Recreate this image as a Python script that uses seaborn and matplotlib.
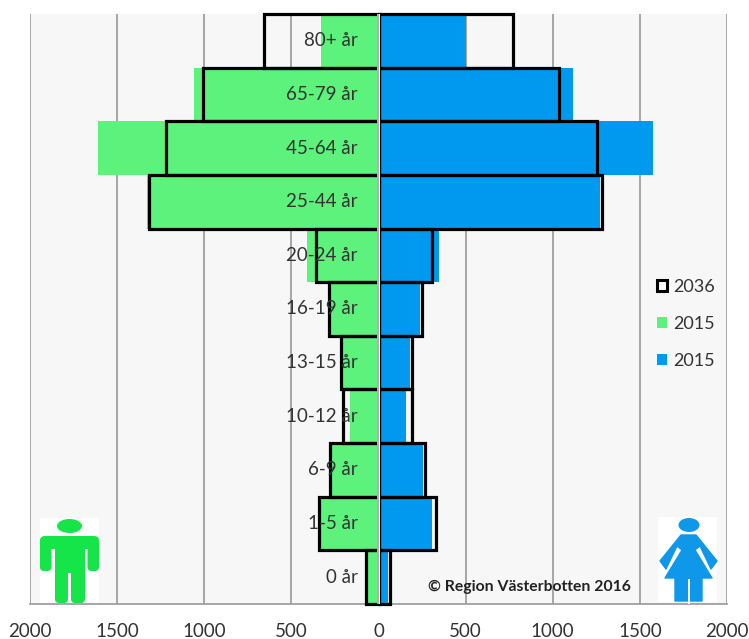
import matplotlib
matplotlib.use("Agg")
import matplotlib.pyplot as plt
import seaborn as sns
from matplotlib.patches import Patch, Rectangle, Ellipse, Polygon, FancyBboxPatch

age_groups = ["80+ år", "65-79 år", "45-64 år", "25-44 år", "20-24 år", "16-19 år",
              "13-15 år", "10-12 år", "6-9 år", "1-5 år", "0 år"]
men_2015 = [330, 1060, 1610, 1330, 410, 280, 210, 165, 275, 330, 65]
women_2015 = [500, 1115, 1575, 1270, 350, 240, 180, 160, 255, 305, 55]
men_2036 = [655, 1010, 1220, 1315, 360, 285, 215, 205, 280, 340, 70]
women_2036 = [770, 1035, 1255, 1280, 305, 250, 190, 190, 265, 330, 65]
xticks = [-2000, -1500, -1000, -500, 0, 500, 1000, 1500, 2000]
xticklabels = ["2000", "1500", "1000", "500", "0", "500", "1000", "1500", "2000"]
legend_labels = ["2036", "2015", "2015"]

GREEN = "#5CF27C"
BLUE = "#0099F0"
BG = "#F7F7F7"
GRID = "#A0A0A0"
TXT = "#333333"
W, H = 749, 639

sns.set_theme(style="white")
plt.rcParams["font.family"] = ["Lato", "DejaVu Sans"]

fig = plt.figure(figsize=(W / 100, H / 100), dpi=100, facecolor="white")
ax = fig.add_axes([30 / W, (H - 604) / H, 697 / W, 590 / H], facecolor=BG)

sns.barplot(x=[-v for v in men_2015], y=age_groups, order=age_groups, orient="h",
            color=GREEN, saturation=1, width=1, linewidth=0, ax=ax, zorder=2)
sns.barplot(x=women_2015, y=age_groups, order=age_groups, orient="h",
            color=BLUE, saturation=1, width=1, linewidth=0, ax=ax, zorder=2)
n_fill = len(ax.patches)
sns.barplot(x=[-v for v in men_2036], y=age_groups, order=age_groups, orient="h",
            color="black", fill=False, width=1, linewidth=2.3, ax=ax, zorder=3)
sns.barplot(x=women_2036, y=age_groups, order=age_groups, orient="h",
            color="black", fill=False, width=1, linewidth=2.3, ax=ax, zorder=3)
for bar in ax.patches[n_fill:]:
    bar.set_clip_on(False)

ax.set_xlim(-2000, 2000)
ax.set_ylim(len(age_groups) - 0.5, -0.5)
ax.set_xticks(xticks)
ax.set_xticklabels(xticklabels, fontsize=13.5, color=TXT)
ax.tick_params(axis="x", length=0, pad=13.5)
ax.set_yticks([])
ax.set_xlabel("")
ax.set_ylabel("")
ax.xaxis.grid(True, color=GRID, linewidth=1.3, zorder=1)
ax.set_axisbelow(True)
for s in ["top", "left", "right"]:
    ax.spines[s].set_visible(False)
ax.spines["bottom"].set_color(GRID)
ax.spines["bottom"].set_linewidth(1.3)

# centre gap and axis
ax.axvspan(-8, 8, color="#FBFBFB", linewidth=0, zorder=4, clip_on=False)
ax.axvline(-5, color=GRID, linewidth=1.2, zorder=5)

for i, label in enumerate(age_groups):
    ax.text(-120, i, label, ha="right", va="center", fontsize=13.5, color=TXT, zorder=6)

handles = [Patch(facecolor="white", edgecolor="black", linewidth=2.2),
           Patch(facecolor=GREEN, edgecolor="none"),
           Patch(facecolor=BLUE, edgecolor="none")]
leg = ax.legend(handles, legend_labels, loc="center left",
                bbox_to_anchor=((657 - 30) / 697, (604 - 324) / 590), frameon=False,
                fontsize=13, handlelength=0.55, handleheight=0.55, handletextpad=0.36,
                labelspacing=1.15, labelcolor=TXT, borderpad=0, borderaxespad=0)
leg.set_zorder(6)

ax.text(428 / W, (H - 587) / H, "© Region Västerbotten 2016", transform=fig.transFigure,
        fontsize=11.3, fontweight="bold", color="#222222", va="center", ha="left", zorder=6)

# pictograms on a pixel overlay
ov = fig.add_axes([0, 0, 1, 1], facecolor="none")
ov.set_xlim(0, W)
ov.set_ylim(H, 0)
ov.axis("off")

ICON_M = "#16E54A"
ICON_F = "#0F97EA"
ov.add_patch(Rectangle((40, 518), 59, 85, facecolor="white", edgecolor="none"))
ov.add_patch(Ellipse((69.5, 526), 25, 14, facecolor=ICON_M, edgecolor="none"))
ov.add_patch(FancyBboxPatch((40, 536), 59, 13, boxstyle="round,pad=0,rounding_size=5", facecolor=ICON_M, edgecolor="none"))
ov.add_patch(FancyBboxPatch((40, 537), 11.5, 34, boxstyle="round,pad=0,rounding_size=4", facecolor=ICON_M, edgecolor="none"))
ov.add_patch(FancyBboxPatch((87.5, 537), 11.5, 34, boxstyle="round,pad=0,rounding_size=4", facecolor=ICON_M, edgecolor="none"))
ov.add_patch(Rectangle((55, 537), 30, 36, facecolor=ICON_M, edgecolor="none"))
ov.add_patch(FancyBboxPatch((55, 565), 13, 38, boxstyle="round,pad=0,rounding_size=4", facecolor=ICON_M, edgecolor="none"))
ov.add_patch(FancyBboxPatch((71, 565), 14, 38, boxstyle="round,pad=0,rounding_size=4", facecolor=ICON_M, edgecolor="none"))

ov.add_patch(Rectangle((658, 517), 59, 85, facecolor="white", edgecolor="none"))
ov.add_patch(Ellipse((689, 525), 21, 14, facecolor=ICON_F, edgecolor="none"))
ov.add_patch(Polygon([(681, 535), (696, 535), (717, 561), (711, 569), (700, 546), (695, 550), (712, 578),
                      (702, 578), (702, 601), (675, 601), (675, 578), (665, 578), (682, 550),
                      (677, 546), (666, 569), (660, 561)],
                     closed=True, facecolor=ICON_F, edgecolor=ICON_F, linewidth=1, joinstyle="round"))
ov.add_patch(Rectangle((688, 579), 1.6, 25, facecolor="white", edgecolor="none"))

fig.savefig("out.png", dpi=100)
